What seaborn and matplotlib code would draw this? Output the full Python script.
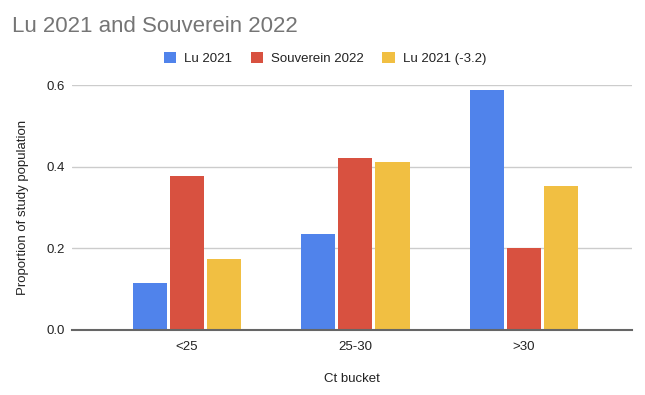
import matplotlib
matplotlib.use("Agg")
import matplotlib.pyplot as plt
import seaborn as sns
import pandas as pd
from matplotlib.patches import Patch

categories = ["<25", "25-30", ">30"]
series_names = ["Lu 2021", "Souverein 2022", "Lu 2021 (-3.2)"]
lu_2021 = [0.115, 0.234, 0.587]
souverein_2022 = [0.376, 0.422, 0.200]
lu_2021_shift = [0.174, 0.411, 0.353]
colors = ["#5083EB", "#D85140", "#F1BF42"]
y_ticks = [0.0, 0.2, 0.4, 0.6]

rows = []
for name, vals in zip(series_names, [lu_2021, souverein_2022, lu_2021_shift]):
    for c, v in zip(categories, vals):
        rows.append({"bucket": c, "series": name, "value": v})
df = pd.DataFrame(rows)

sns.set_theme(style="white")
plt.rcParams["font.family"] = ["Liberation Sans", "DejaVu Sans"]

fig = plt.figure(figsize=(6.45, 3.95), dpi=100)
ax = fig.add_axes([72 / 645, 1 - 330 / 395, 560 / 645, 245 / 395])

sns.barplot(data=df, x="bucket", y="value", hue="series", order=categories,
            hue_order=series_names, palette=colors, width=0.66, gap=0.08,
            saturation=1, ax=ax, legend=False, edgecolor="none")

ax.set_xlim(-0.68, 2.64)
ax.set_ylim(0, 0.6)
ax.set_yticks(y_ticks)
ax.set_yticklabels([f"{t:.1f}" for t in y_ticks])
ax.yaxis.grid(True, color="#CCCCCC", linewidth=1)
ax.set_axisbelow(True)
for s in ["top", "right", "left"]:
    ax.spines[s].set_visible(False)
ax.spines["bottom"].set_color("#666666")
ax.spines["bottom"].set_linewidth(1.5)
ax.spines["bottom"].set_zorder(5)
ax.tick_params(axis="both", length=0, labelsize=9.5, colors="#222222", pad=8)
ax.tick_params(axis="y", pad=5)

ax.set_xlabel("Ct bucket", fontsize=9.5, color="#222222", labelpad=14.5)
ax.set_ylabel("Proportion of study population", fontsize=9.5, color="#222222", labelpad=13)

fig.text(12 / 645, 1 - 26 / 395, "Lu 2021 and Souverein 2022", fontsize=16,
         color="#757575", va="center", ha="left")

handles = [Patch(facecolor=c, edgecolor="none") for c in colors]
fig.legend(handles, series_names, loc="center", bbox_to_anchor=(325 / 645, 1 - 58.5 / 395),
           ncol=3, frameon=False, fontsize=9.5, handlelength=0.95, handleheight=0.95,
           handletextpad=0.6, columnspacing=1.4, labelcolor="#222222")

fig.savefig("out.png", dpi=100)
